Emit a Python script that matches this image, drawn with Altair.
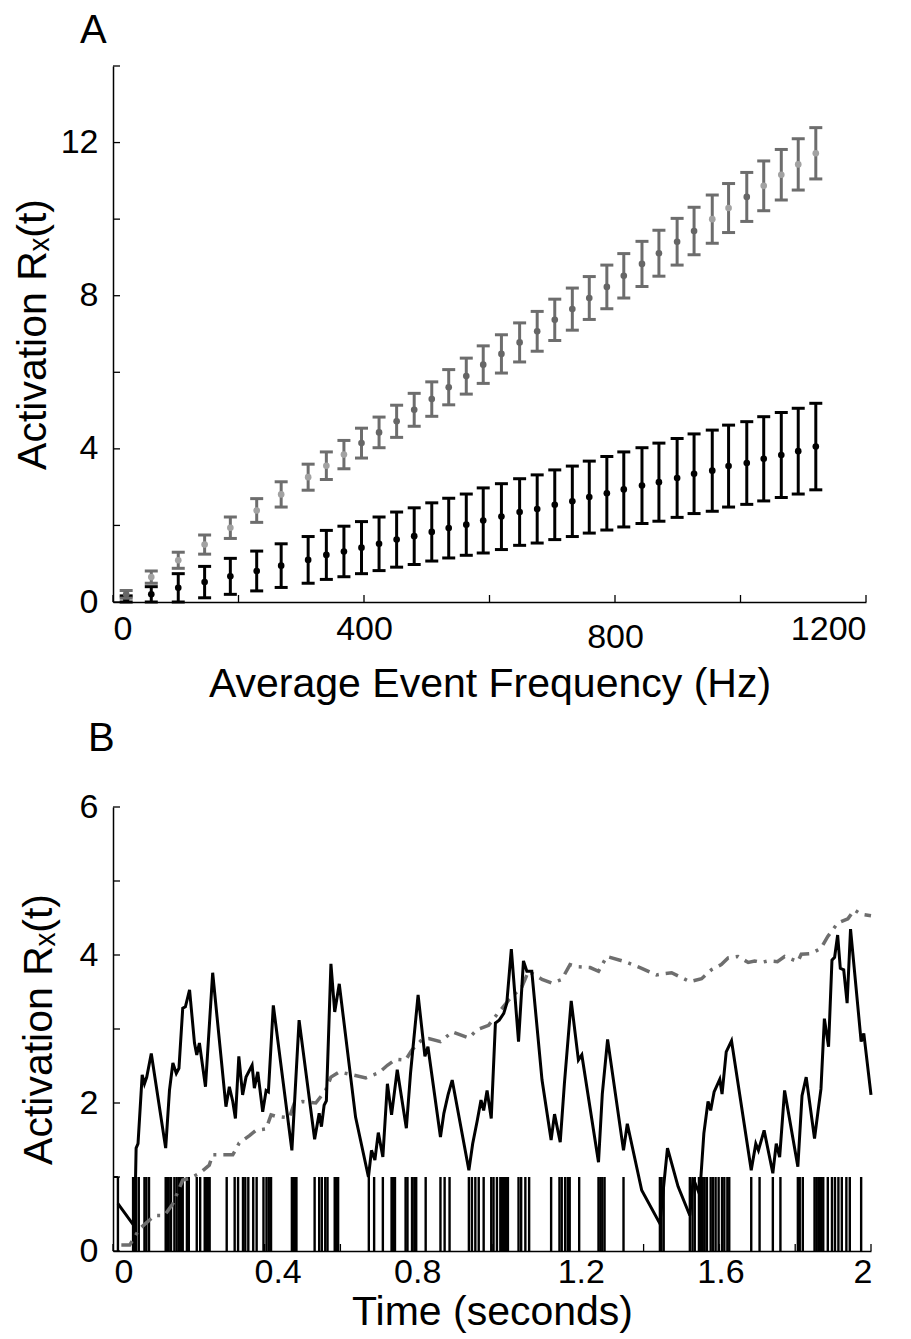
import altair as alt
import pandas as pd

FONT = "Liberation Sans"

# ---------------- Panel A data ----------------
freq_hz = [21, 61, 104, 146, 187, 229, 268, 311, 340, 368, 396, 424, 452, 480,
           508, 535, 563, 590, 619, 648, 676, 704, 732, 759, 787, 814, 843, 870,
           899, 926, 955, 981, 1010, 1037, 1065, 1092, 1120]
upper_mean = [0.20, 0.65, 1.09, 1.50, 1.94, 2.39, 2.81, 3.26, 3.56, 3.85, 4.15, 4.43,
              4.72, 5.02, 5.30, 5.61, 5.90, 6.20, 6.48, 6.78, 7.07, 7.37, 7.65, 7.94,
              8.23, 8.52, 8.83, 9.11, 9.41, 9.69, 10.00, 10.29, 10.58, 10.87, 11.16,
              11.43, 11.72]
upper_err = [0.10, 0.16, 0.21, 0.25, 0.28, 0.31, 0.33, 0.34, 0.36, 0.37, 0.39, 0.40,
             0.42, 0.43, 0.45, 0.46, 0.47, 0.49, 0.50, 0.51, 0.52, 0.54, 0.55, 0.56,
             0.57, 0.58, 0.59, 0.60, 0.61, 0.62, 0.63, 0.64, 0.64, 0.65, 0.66, 0.67,
             0.67]
upper_tone = [0, 1, 1, 1, 1, 1, 1, 1, 1, 1, 0, 0, 0, 0, 0, 0, 0, 0, 0, 0, 0, 0, 0, 0,
              0, 0, 0, 0, 0, 0, 1, 1, 0, 1, 1, 1, 1]
lower_mean = [0.08, 0.20, 0.37, 0.52, 0.67, 0.81, 0.95, 1.10, 1.23, 1.32, 1.42, 1.52,
              1.63, 1.72, 1.83, 1.93, 2.02, 2.13, 2.23, 2.35, 2.43, 2.54, 2.63, 2.74,
              2.84, 2.94, 3.04, 3.13, 3.24, 3.35, 3.43, 3.55, 3.63, 3.74, 3.84, 3.94,
              4.06]
lower_err = [0.08, 0.20, 0.37, 0.41, 0.47, 0.52, 0.57, 0.61, 0.64, 0.66, 0.68, 0.70,
             0.72, 0.74, 0.76, 0.78, 0.80, 0.85, 0.86, 0.87, 0.89, 0.91, 0.92, 0.94,
             0.96, 0.98, 0.99, 1.02, 1.03, 1.04, 1.06, 1.07, 1.08, 1.10, 1.11, 1.12,
             1.13]

A_x_ticks = [0, 200, 400, 600, 800, 1000, 1200]
A_y_ticks = [0, 2, 4, 6, 8, 10, 12, 14]
A_x_labels = [0, 400, 800, 1200]
A_y_labels = [0, 4, 8, 12]

# ---------------- Panel B data ----------------
act_t = [0.013, 0.057, 0.061, 0.066, 0.077, 0.083, 0.089, 0.101, 0.139, 0.149, 0.158,
         0.167, 0.174, 0.184, 0.191, 0.202, 0.215, 0.221, 0.228, 0.244, 0.263, 0.298,
         0.307, 0.316, 0.323, 0.332, 0.342, 0.351, 0.367, 0.373, 0.382, 0.395, 0.404,
         0.410, 0.423, 0.472, 0.491, 0.532, 0.544, 0.550, 0.557, 0.563, 0.575, 0.585,
         0.597, 0.640, 0.674, 0.682, 0.691, 0.700, 0.712, 0.724, 0.735, 0.750, 0.774,
         0.785, 0.805, 0.823, 0.831, 0.864, 0.873, 0.884, 0.895, 0.939, 0.949, 0.961,
         0.971, 0.978, 0.987, 0.998, 1.009, 1.019, 1.031, 1.039, 1.051, 1.070, 1.083,
         1.092, 1.105, 1.132, 1.156, 1.165, 1.180, 1.191, 1.209, 1.228, 1.237, 1.281,
         1.291, 1.305, 1.347, 1.357, 1.395, 1.443, 1.463, 1.491, 1.522, 1.531, 1.548,
         1.559, 1.570, 1.577, 1.586, 1.601, 1.607, 1.618, 1.632, 1.684, 1.696, 1.703,
         1.718, 1.741, 1.750, 1.759, 1.772, 1.807, 1.818, 1.829, 1.851, 1.860, 1.868,
         1.877, 1.888, 1.897, 1.904, 1.912, 1.919, 1.928, 1.937, 1.946, 1.974, 1.981,
         2.000]
act_v = [0.64, 0.33, 1.39, 1.45, 2.38, 2.26, 2.35, 2.67, 1.39, 2.17, 2.54,
         2.40, 2.47, 3.28, 3.30, 3.53, 2.81, 2.65, 2.81, 2.22, 3.76, 1.95,
         2.22, 2.02, 1.79, 2.63, 2.11, 2.35, 2.51, 2.20, 2.42, 1.88, 2.17,
         2.15, 3.32, 1.36, 3.12, 1.51, 1.86, 1.68, 1.97, 2.03, 3.88, 3.23,
         3.61, 1.81, 1.00, 1.36, 1.23, 1.60, 1.27, 2.26, 1.84, 2.45, 1.66,
         2.40, 3.46, 2.63, 2.76, 1.54, 1.86, 2.11, 2.31, 1.09, 1.45, 1.76,
         2.04, 1.90, 2.17, 1.79, 3.08, 3.12, 3.21, 3.35, 4.08, 2.83, 3.92,
         3.78, 3.78, 2.31, 1.50, 1.85, 1.47, 2.26, 3.38, 2.58, 2.65, 1.20,
         2.12, 2.86, 1.36, 1.72, 0.82, 0.37, 1.39, 0.87, 0.48, 0.98, 0.76,
         1.59, 2.02, 1.90, 2.15, 2.32, 2.12, 2.69, 2.84, 1.09, 1.45, 1.36,
         1.63, 1.05, 1.45, 1.27, 2.17, 1.14, 2.10, 2.35, 1.52, 1.88, 2.19,
         3.14, 2.76, 3.93, 3.97, 4.27, 3.82, 3.80, 3.35, 4.35, 2.83, 2.94,
         2.11]

slow_t = [0.022, 0.044, 0.070, 0.110, 0.136, 0.158, 0.184, 0.202, 0.228, 0.254, 0.263,
          0.316, 0.324, 0.333, 0.360, 0.377, 0.404, 0.417, 0.430, 0.465, 0.478, 0.500,
          0.535, 0.561, 0.575, 0.597, 0.632, 0.667, 0.702, 0.724, 0.746, 0.772, 0.789,
          0.816, 0.833, 0.864, 0.895, 0.939, 0.961, 0.991, 1.009, 1.044, 1.079, 1.096,
          1.132, 1.158, 1.184, 1.206, 1.228, 1.259, 1.281, 1.303, 1.351, 1.395, 1.434,
          1.456, 1.474, 1.522, 1.553, 1.579, 1.605, 1.623, 1.649, 1.676, 1.693, 1.711,
          1.728, 1.753, 1.772, 1.807, 1.816, 1.842, 1.868, 1.886, 1.912, 1.939, 1.956,
          1.974, 2.000]
slow_v = [0.08, 0.08, 0.30, 0.48, 0.48, 0.64, 0.96, 0.98, 1.05, 1.16, 1.30,
          1.30, 1.37, 1.46, 1.56, 1.63, 1.65, 1.84, 1.82, 1.80, 1.99, 2.02,
          2.00, 2.17, 2.35, 2.42, 2.38, 2.34, 2.41, 2.51, 2.59, 2.58, 2.72,
          2.86, 2.87, 2.83, 2.96, 2.88, 2.99, 3.05, 3.17, 3.39, 3.57, 3.78,
          3.67, 3.62, 3.67, 3.87, 3.84, 3.83, 3.78, 3.98, 3.91, 3.82, 3.73,
          3.75, 3.76, 3.64, 3.68, 3.80, 3.87, 3.96, 3.98, 3.90, 3.92, 3.90,
          3.92, 3.91, 3.98, 3.91, 4.01, 4.02, 4.09, 4.25, 4.43, 4.49, 4.61,
          4.55, 4.53]

spike_t = [0.013, 0.053, 0.057, 0.061, 0.068, 0.083, 0.088, 0.095, 0.139, 0.143, 0.147,
           0.153, 0.162, 0.168, 0.174, 0.180, 0.184, 0.195, 0.200, 0.221, 0.230, 0.242,
           0.246, 0.251, 0.255, 0.300, 0.321, 0.330, 0.343, 0.349, 0.357, 0.370, 0.379,
           0.397, 0.405, 0.411, 0.417, 0.472, 0.475, 0.480, 0.484, 0.532, 0.544, 0.551,
           0.560, 0.566, 0.585, 0.589, 0.594, 0.675, 0.689, 0.712, 0.735, 0.739, 0.744,
           0.772, 0.777, 0.789, 0.795, 0.800, 0.825, 0.864, 0.875, 0.888, 0.939, 0.947,
           0.956, 0.965, 0.978, 0.998, 1.004, 1.013, 1.022, 1.026, 1.032, 1.037, 1.042,
           1.070, 1.077, 1.088, 1.098, 1.156, 1.178, 1.184, 1.193, 1.200, 1.205, 1.230,
           1.281, 1.286, 1.291, 1.297, 1.347, 1.443, 1.447, 1.453, 1.522, 1.529, 1.535,
           1.546, 1.551, 1.556, 1.561, 1.567, 1.577, 1.583, 1.590, 1.598, 1.607, 1.613,
           1.621, 1.626, 1.684, 1.706, 1.741, 1.761, 1.807, 1.812, 1.820, 1.851, 1.856,
           1.861, 1.865, 1.869, 1.874, 1.886, 1.897, 1.905, 1.914, 1.923, 1.935, 1.944,
           1.974]
pulse_start = [0.0]
pulse_end = [0.013]

B_x_ticks = [0, 0.2, 0.4, 0.6, 0.8, 1.0, 1.2, 1.4, 1.6, 1.8, 2.0]
B_y_ticks = [0, 1, 2, 3, 4, 5, 6]
B_x_labels = [0, 0.4, 0.8, 1.2, 1.6, 2]
B_y_labels = [0, 2, 4, 6]

YTITLE = "Activation R\u2093(t)"

# ---------------- sizes ----------------
WA, HA = 753, 536
WB, HB = 758, 444
TICK = 7
LABEL_EXPR = "format(datum.value, '~r')"

# ---------------- Panel A ----------------
sxA = alt.Scale(domain=[0, 1200], nice=False, zero=False)
syA = alt.Scale(domain=[0, 14], nice=False, zero=False)
axA_x = alt.Axis(values=A_x_labels, title="Average Event Frequency (Hz)", ticks=False,
                 grid=False, labelExpr=LABEL_EXPR,
                 labelPadding={"condition": {"test": "datum.value == 800", "value": 18}, "value": 10},
                 titlePadding=10)
axA_y = alt.Axis(values=A_y_labels, title=YTITLE, ticks=False, grid=False,
                 labelExpr=LABEL_EXPR, labelPadding=15, titlePadding=6)


def XA(field):
    return alt.X(field, type="quantitative", scale=sxA, axis=axA_x)


def YA(field):
    return alt.Y(field, type="quantitative", scale=syA, axis=axA_y)


up = pd.DataFrame({"f": freq_hz, "m": upper_mean,
                   "lo": [m - e for m, e in zip(upper_mean, upper_err)],
                   "hi": [m + e for m, e in zip(upper_mean, upper_err)],
                   "tone": upper_tone})
lw = pd.DataFrame({"f": freq_hz, "m": lower_mean,
                   "lo": [max(0.0, m - e) for m, e in zip(lower_mean, lower_err)],
                   "hi": [m + e for m, e in zip(lower_mean, lower_err)]})

GRAYBAR = "#6d6d6d"


def err_layers(df, color, width):
    base = alt.Chart(df)
    bar = base.mark_rule(color=color, strokeWidth=width).encode(
        x=XA("f"), y=YA("lo"), y2=alt.Y2("hi"))
    cap_hi = base.mark_rule(color=color, strokeWidth=width, xOffset=-6.5, x2Offset=6.5).encode(
        x=XA("f"), x2=alt.X2("f"), y=YA("hi"))
    cap_lo = base.mark_rule(color=color, strokeWidth=width, xOffset=-6.5, x2Offset=6.5).encode(
        x=XA("f"), x2=alt.X2("f"), y=YA("lo"))
    return [bar, cap_hi, cap_lo]


low_pts = alt.Chart(lw).mark_circle(size=44, opacity=1, color="black").encode(
    x=XA("f"), y=YA("m"))
up_pts = alt.Chart(up).mark_circle(size=44, opacity=1).encode(
    x=XA("f"), y=YA("m"),
    color=alt.Color("tone:N", scale=alt.Scale(domain=[0, 1], range=["#666666", "#a2a2a2"]), legend=None))

ytA = alt.Chart(pd.DataFrame({"v": A_y_ticks})).mark_rule(color="black", strokeWidth=1.3).encode(
    y=YA("v"), x=alt.value(0), x2=alt.value(TICK))
xtA = alt.Chart(pd.DataFrame({"v": A_x_ticks})).mark_rule(color="black", strokeWidth=1.3).encode(
    x=XA("v"), y=alt.value(HA), y2=alt.value(HA - TICK))

chartA = alt.layer(
    ytA, xtA,
    *err_layers(lw, "black", 3),
    low_pts,
    *err_layers(up, GRAYBAR, 3),
    up_pts,
).properties(
    width=WA, height=HA,
    title=alt.TitleParams("A", anchor="start", frame="group", fontSize=40, font=FONT,
                          fontWeight="normal", dx=-33, offset=14, color="black"),
)

# ---------------- Panel B ----------------
sxB = alt.Scale(domain=[0, 2], nice=False, zero=False)
syB = alt.Scale(domain=[0, 6], nice=False, zero=False)
axB_x = alt.Axis(values=B_x_labels, title="Time (seconds)", ticks=False, grid=False,
                 labelExpr=LABEL_EXPR, labelPadding=4, titlePadding=3,
                 labelOffset={"condition": {"test": "(datum.value > 0.3 && datum.value < 0.5) || (datum.value > 1.1 && datum.value < 1.3)",
                                            "value": 13}, "value": 1})
axB_y = alt.Axis(values=B_y_labels, title=YTITLE, ticks=False, grid=False,
                 labelExpr=LABEL_EXPR, labelPadding=15, titlePadding=19)


def XB(field):
    return alt.X(field, type="quantitative", scale=sxB, axis=axB_x)


def YB(field):
    return alt.Y(field, type="quantitative", scale=syB, axis=axB_y)


spk = pd.DataFrame({"t": spike_t, "lo": [0] * len(spike_t), "hi": [1] * len(spike_t)})
raster = alt.Chart(spk).mark_rule(color="black", strokeWidth=2.4).encode(
    x=XB("t"), y=YB("lo"), y2=alt.Y2("hi"))
pulse = alt.Chart(pd.DataFrame({"a": pulse_start, "b": pulse_end, "h": [1]})).mark_rule(
    color="black", strokeWidth=2).encode(x=XB("a"), x2=alt.X2("b"), y=YB("h"))

act = pd.DataFrame({"t": act_t, "v": act_v, "i": list(range(len(act_t)))})
slow = pd.DataFrame({"t": slow_t, "v": slow_v, "i": list(range(len(slow_t)))})

slow_line = alt.Chart(slow).mark_line(color="#6e6e6e", strokeWidth=3.5,
                                      strokeDash=[13, 7, 3, 7]).encode(
    x=XB("t"), y=YB("v"), order="i:Q")
act_line = alt.Chart(act).mark_line(color="black", strokeWidth=3).encode(
    x=XB("t"), y=YB("v"), order="i:Q")

ytB = alt.Chart(pd.DataFrame({"v": B_y_ticks})).mark_rule(color="black", strokeWidth=1.3).encode(
    y=YB("v"), x=alt.value(0), x2=alt.value(TICK))
xtB = alt.Chart(pd.DataFrame({"v": B_x_ticks})).mark_rule(color="black", strokeWidth=1.3).encode(
    x=XB("v"), y=alt.value(HB), y2=alt.value(HB - TICK))

chartB = alt.layer(
    ytB, xtB, raster, pulse, slow_line, act_line
).properties(
    width=WB, height=HB,
    title=alt.TitleParams("B", anchor="start", frame="group", fontSize=40, font=FONT,
                          fontWeight="normal", dx=-25, offset=31, color="black"),
)

chart = alt.vconcat(chartA, chartB, spacing=15).properties(
    padding={"left": 4, "top": 3, "right": 0, "bottom": 2},
    background="white",
).configure_view(stroke=None).configure_axis(
    labelFont=FONT, labelFontSize=34, labelColor="black",
    titleFont=FONT, titleFontSize=41, titleFontWeight="normal", titleColor="black",
    domainColor="black", domainWidth=1.5,
)

chart.save("out.html", embed_options={"renderer": "svg", "actions": False})
